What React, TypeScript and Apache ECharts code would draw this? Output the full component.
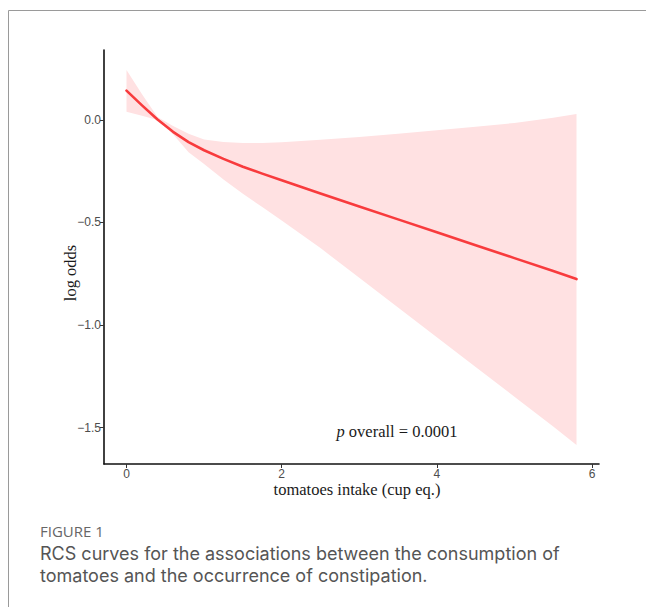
import React, { useEffect, useRef } from "react";
import * as echarts from "echarts";

const xValues = [0, 0.2, 0.4, 0.6, 0.8, 1.0, 1.25, 1.5, 1.75, 2.0, 2.5, 3.0, 3.5, 4.0, 4.5, 5.0, 5.5, 5.8];
const fitValues = [0.143, 0.071, 0.002, -0.058, -0.108, -0.148, -0.19, -0.228, -0.262, -0.294, -0.359, -0.422, -0.485, -0.548, -0.611, -0.674, -0.737, -0.776];
const upperValues = [0.244, 0.125, 0.014, -0.03, -0.068, -0.095, -0.108, -0.113, -0.113, -0.109, -0.097, -0.083, -0.067, -0.05, -0.033, -0.015, 0.01, 0.029];
const lowerValues = [0.04, 0.02, 0.0, -0.07, -0.158, -0.215, -0.29, -0.36, -0.425, -0.49, -0.625, -0.77, -0.915, -1.06, -1.205, -1.35, -1.495, -1.585];
const xTicks = [0, 2, 4, 6];
const yTicks = [-1.5, -1.0, -0.5, 0.0];

const xTitle = "tomatoes intake (cup eq.)";
const yTitle = "log odds";
const pText = "overall = 0.0001";
const figLabel = "FIGURE 1";
const captionLines = [
  "RCS curves for the associations between the consumption of",
  "tomatoes and the occurrence of constipation.",
];

export default function App() {
  const ref = useRef<HTMLDivElement>(null);
  useEffect(() => {
    const chart = echarts.init(ref.current!, null, { renderer: "svg" });
    const bandData = xValues.map((x, i) => [x, lowerValues[i], upperValues[i]]);
    const fitData = xValues.map((x, i) => [x, fitValues[i]]);
    const tickLabelStyle = {
      color: "#4d4d4d",
      fontSize: 12,
      fontFamily: "Liberation Sans, Arial, sans-serif",
    };
    const serif = "Liberation Serif, Times New Roman, serif";
    chart.setOption({
      animation: false,
      backgroundColor: "#ffffff",
      grid: { left: 104, top: 50, right: 47, bottom: 143, containLabel: false },
      xAxis: {
        type: "value",
        min: -0.29,
        max: 6.09,
        axisLine: { show: true, onZero: false, lineStyle: { color: "#111", width: 1.6 } },
        axisTick: { show: true, customValues: xTicks, length: 4, lineStyle: { color: "#333", width: 1 } },
        axisLabel: { customValues: xTicks, margin: 4, ...tickLabelStyle },
        splitLine: { show: false },
      },
      yAxis: {
        type: "value",
        min: -1.678,
        max: 0.341,
        axisLine: { show: true, onZero: false, lineStyle: { color: "#111", width: 1.6 } },
        axisTick: { show: true, customValues: yTicks, length: 4, lineStyle: { color: "#333", width: 1 } },
        axisLabel: {
          customValues: yTicks,
          margin: 3,
          ...tickLabelStyle,
          formatter: (v: number) => (v < 0 ? "\u2212" + Math.abs(v).toFixed(1) : v.toFixed(1)),
        },
        splitLine: { show: false },
      },
      series: [
        {
          type: "custom",
          data: bandData,
          encode: { x: 0, y: [1, 2] },
          silent: true,
          z: 1,
          renderItem: (params: any, api: any) => {
            if (params.dataIndex !== 0) return null;
            const pts: number[][] = [];
            for (let i = 0; i < xValues.length; i++) pts.push(api.coord([xValues[i], upperValues[i]]));
            for (let i = xValues.length - 1; i >= 0; i--) pts.push(api.coord([xValues[i], lowerValues[i]]));
            return { type: "polygon", shape: { points: pts }, style: { fill: "#FFE1E2" } };
          },
        },
        {
          type: "line",
          data: fitData,
          symbol: "none",
          smooth: false,
          z: 3,
          lineStyle: { color: "#F83B3D", width: 2.6, join: "round", cap: "round" },
          silent: true,
        },
      ],
      graphic: [
        { type: "line", shape: { x1: 8.5, y1: 10.5, x2: 646, y2: 10.5 }, style: { stroke: "#9a9a9a", lineWidth: 1 } },
        { type: "line", shape: { x1: 8.5, y1: 10.5, x2: 8.5, y2: 607 }, style: { stroke: "#9a9a9a", lineWidth: 1 } },
        {
          type: "text",
          x: 70,
          y: 273,
          rotation: Math.PI / 2,
          style: {
            text: yTitle,
            fill: "#1a1a1a",
            fontSize: 16.5,
            fontFamily: serif,
            textAlign: "center",
            textVerticalAlign: "middle",
          },
        },
        {
          type: "text",
          x: 357,
          y: 489,
          style: {
            text: xTitle,
            fill: "#1a1a1a",
            fontSize: 16.5,
            fontFamily: serif,
            textAlign: "center",
            textVerticalAlign: "middle",
          },
        },
        {
          type: "text",
          x: 397,
          y: 431,
          style: {
            text: "{i|p} " + pText,
            fill: "#1a1a1a",
            fontSize: 16.5,
            fontFamily: serif,
            textAlign: "center",
            textVerticalAlign: "middle",
            rich: {
              i: { fontStyle: "italic", fontSize: 16.5, fontFamily: serif, fill: "#1a1a1a" },
            },
          },
        },
        {
          type: "text",
          x: 40,
          y: 531,
          style: {
            text: figLabel,
            fill: "#666666",
            fontSize: 15,
            fontFamily: "Open Sans, sans-serif",
            textAlign: "left",
            textVerticalAlign: "middle",
          },
        },
        {
          type: "text",
          x: 40,
          y: 564.25,
          style: {
            text: captionLines.join("\n"),
            fill: "#555555",
            fontSize: 18,
            lineHeight: 22.5,
            fontFamily: "Inter, Open Sans, sans-serif",
            textAlign: "left",
            textVerticalAlign: "middle",
          },
        },
      ],
    });
    return () => chart.dispose();
  }, []);
  return (
    <div
      ref={ref}
      style={{ position: "fixed", left: 0, top: 0, width: 646, height: 607, background: "#fff" }}
    />
  );
}
